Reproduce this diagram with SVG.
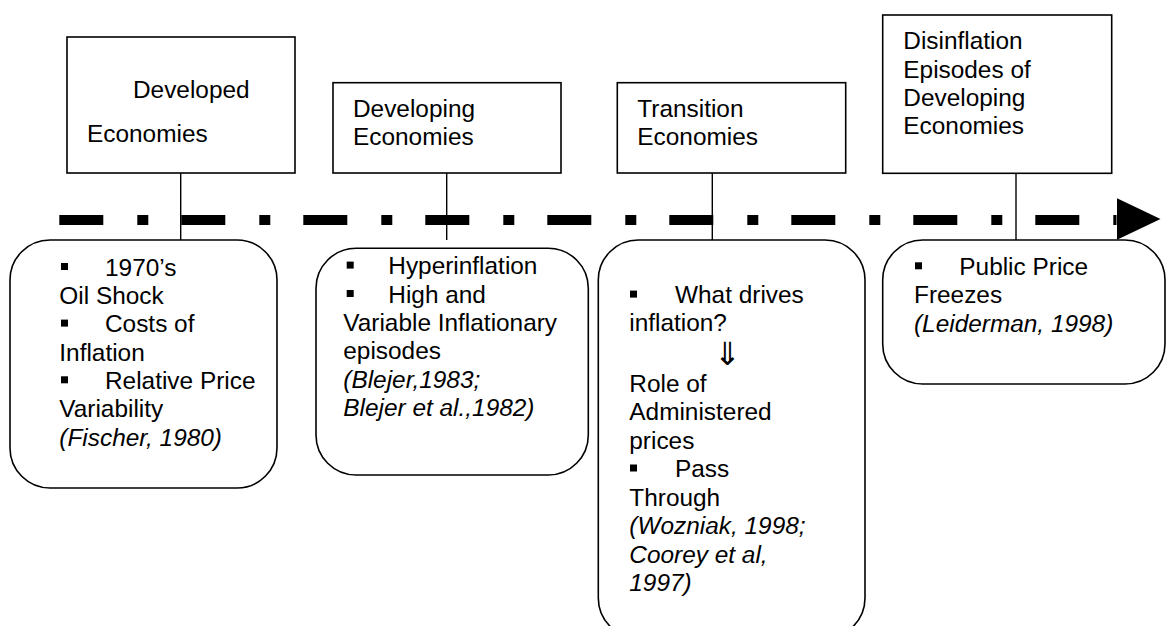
<svg xmlns="http://www.w3.org/2000/svg" width="1166" height="626" viewBox="0 0 1166 626">
<style>
text{font-family:"Liberation Sans",Arial,sans-serif;font-size:24.4px;fill:#000}
.it{font-style:italic}
.box{fill:#fff;stroke:#000;stroke-width:1.6}
.rbox{fill:#fff;stroke:#000;stroke-width:1.6}
.con{stroke:#000;stroke-width:1.4;fill:none}
.blt{fill:#000}
.sym{font-family:"DejaVu Sans",sans-serif;font-size:32px;font-weight:200}
</style>
<defs>
<marker id="ah" markerUnits="userSpaceOnUse" markerWidth="46" markerHeight="44" refX="0" refY="22" orient="auto" viewBox="0 0 46 44">
<polygon points="0,0 44,21 0,42" fill="#000"/>
</marker>
</defs>
<rect width="1166" height="626" fill="#fff"/>
<g id="connectors">
<line x1="59.3" y1="220" x2="1116.5" y2="220" stroke="#000" stroke-width="10" stroke-dasharray="44 34 11 33" marker-end="url(#ah)"/>
<line class="con" x1="180.7" y1="173" x2="180.7" y2="240"/>
<line class="con" x1="446.7" y1="173" x2="446.7" y2="240"/>
<line class="con" x1="712.3" y1="173" x2="712.3" y2="240"/>
<line class="con" x1="1016" y1="173" x2="1016" y2="240"/>
</g>
<g id="developed">
<rect class="box" x="67" y="37" width="228" height="136"/>
<text x="133" y="98.3">Developed</text>
<text x="87" y="141.7">Economies</text>
</g>
<g id="developing">
<rect class="box" x="333" y="82.7" width="228" height="90.3"/>
<text x="353" y="116.7">Developing</text>
<text x="353" y="145">Economies</text>
</g>
<g id="transition">
<rect class="box" x="617.3" y="82.7" width="228.4" height="90.3"/>
<text x="637.3" y="116.7">Transition</text>
<text x="637.3" y="145">Economies</text>
</g>
<g id="disinflation">
<rect class="box" x="882.7" y="15" width="229" height="158.3"/>
<text x="903.3" y="49.3">Disinflation</text>
<text x="903.3" y="77.6">Episodes of</text>
<text x="903.3" y="105.9">Developing</text>
<text x="903.3" y="134.2">Economies</text>
</g>
<g id="developed-topics">
<rect class="rbox" x="10" y="240" width="267" height="248" rx="40" ry="40"/>
<rect class="blt" x="61" y="263" width="7" height="7"/>
<text x="105" y="275.7">1970’s</text>
<text x="59.3" y="304">Oil Shock</text>
<rect class="blt" x="61" y="319.6" width="7" height="7"/>
<text x="105" y="332.3">Costs of</text>
<text x="59.3" y="360.7">Inflation</text>
<rect class="blt" x="61" y="376.3" width="7" height="7"/>
<text x="105" y="389">Relative Price</text>
<text x="59.3" y="417.3">Variability</text>
<text class="it" x="59.3" y="445.7">(Fischer, 1980)</text>
</g>
<g id="developing-topics">
<rect class="rbox" x="316" y="248.3" width="272.3" height="226.7" rx="40" ry="40"/>
<rect class="blt" x="346.7" y="261.6" width="7" height="7"/>
<text x="388.3" y="274.3">Hyperinflation</text>
<rect class="blt" x="346.7" y="290" width="7" height="7"/>
<text x="388.3" y="302.7">High and</text>
<text x="343.3" y="331">Variable Inflationary</text>
<text x="343.3" y="359.3">episodes</text>
<text class="it" x="343.3" y="387.7">(Blejer,1983;</text>
<text class="it" x="343.3" y="416">Blejer et al.,1982)</text>
</g>
<g id="transition-topics">
<rect class="rbox" x="598.3" y="240" width="266.7" height="398" rx="40" ry="40"/>
<rect class="blt" x="630" y="290.6" width="7" height="7"/>
<text x="675" y="303.3">What drives</text>
<text x="629.3" y="331">inflation?</text>
<text class="sym" x="727.5" y="365" text-anchor="middle">⇓</text>
<text x="629.3" y="391.7">Role of</text>
<text x="629.3" y="420.2">Administered</text>
<text x="629.3" y="448.7">prices</text>
<rect class="blt" x="630" y="464.5" width="7" height="7"/>
<text x="675" y="477.2">Pass</text>
<text x="629.3" y="505.7">Through</text>
<text class="it" x="629.3" y="534.2">(Wozniak, 1998;</text>
<text class="it" x="629.3" y="562.7">Coorey et al,</text>
<text class="it" x="629.3" y="591.2">1997)</text>
</g>
<g id="disinflation-topics">
<rect class="rbox" x="882.7" y="240" width="282.3" height="144" rx="40" ry="40"/>
<rect class="blt" x="915" y="262.3" width="7" height="7"/>
<text x="959.3" y="275">Public Price</text>
<text x="914" y="303.3">Freezes</text>
<text class="it" x="914" y="331.7">(Leiderman, 1998)</text>
</g>
</svg>
